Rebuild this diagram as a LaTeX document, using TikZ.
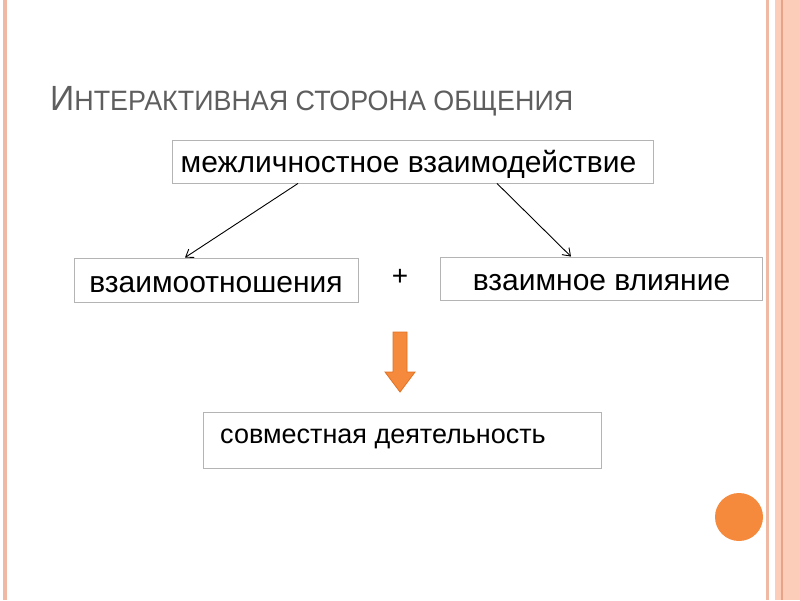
\documentclass[tikz,border=0pt]{standalone}
\usepackage{fontspec}
\setmainfont{Liberation Sans}
\usetikzlibrary{arrows.meta}
\definecolor{boxline}{HTML}{B4B4B4}
\definecolor{peach}{HTML}{FCCDB8}
\definecolor{peachline}{HTML}{EFB9A4}
\definecolor{peachdark}{HTML}{E8A488}
\definecolor{orangefill}{HTML}{F68A3C}
\definecolor{orangeedge}{HTML}{E07020}
\definecolor{titlegrey}{HTML}{5E5E5E}
\tikzset{
  box/.style={draw=boxline, line width=0.9pt, inner sep=0pt, fill=white},
  boxtext/.style={font=\fontsize{30}{30}\selectfont},
  conn/.style={-{Straight Barb[length=7pt,width=10pt]}, line width=0.9pt, black},
}
\begin{document}
\begin{tikzpicture}[x=1pt,y=-1pt]
\useasboundingbox (0,0) rectangle (800,600);
\fill[white] (0,0) rectangle (800,600);
% decorative borders
\fill[peachline] (3,0) rectangle (7,600);
\fill[peachline] (766,0) rectangle (769,600);
\fill[peach] (775,0) rectangle (800,600);
\fill[peachdark] (781,0) rectangle (782.5,600);
% title
\node[anchor=base west, inner sep=0pt, text=titlegrey] (title) at (50,110)
  {\scalebox{0.96}[1]{\fontsize{35}{35}\selectfont И\fontsize{28}{28}\selectfont НТЕРАКТИВНАЯ СТОРОНА ОБЩЕНИЯ}};
% boxes
\node[box, minimum width=481pt, minimum height=43pt] (top) at (412.5,161.5) {};
\node[anchor=base, inner sep=0pt, boxtext] (toptext) at (408.5,172) {межличностное взаимодействие};
\node[box, minimum width=284pt, minimum height=44pt] (left) at (216,280) {};
\node[anchor=base, inner sep=0pt, boxtext] (lefttext) at (216,292) {взаимоотношения};
\node[box, minimum width=322pt, minimum height=43pt] (right) at (601,278.5) {};
\node[anchor=base, inner sep=0pt, boxtext] (righttext) at (601.5,290) {взаимное влияние};
\node[font=\fontsize{28}{28}\selectfont, inner sep=0pt] (plus) at (400,277) {+};
\node[box, minimum width=398pt, minimum height=56pt] (bottom) at (402,440) {};
\node[anchor=base west, inner sep=0pt, font=\fontsize{27}{27}\selectfont] (btext) at (220,443) {совместная деятельность};
% connectors
\draw[conn] ([xshift=-114.5pt]top.south) -- ([xshift=-31pt]left.north);
\draw[conn] ([xshift=84.5pt]top.south) -- ([xshift=-30pt]right.north);
% block arrow
\draw[fill=orangefill, draw=orangeedge, line width=0.8pt, line join=miter]
  (393,332) -- (407,332) -- (407,372) -- (415,372) -- (400,392) -- (385,372) -- (393,372) -- cycle;
% circle
\fill[orangefill] (739,517) circle (24);
\end{tikzpicture}
\end{document}
